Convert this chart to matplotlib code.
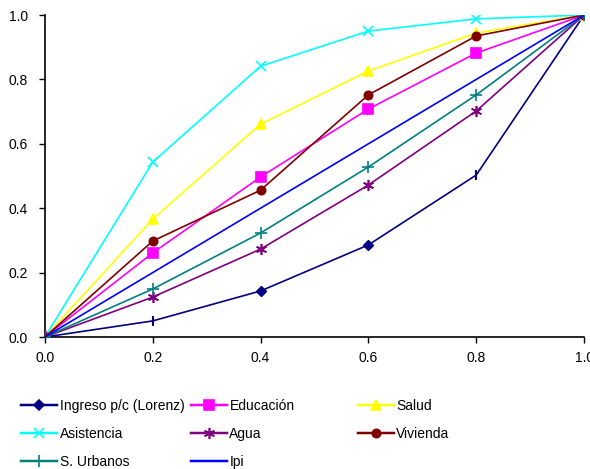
import matplotlib
matplotlib.use("Agg")
import matplotlib.pyplot as plt
from matplotlib.lines import Line2D

plt.rcParams['font.family'] = ['Liberation Sans', 'DejaVu Sans']

x = [0.0, 0.2, 0.4, 0.6, 0.8, 1.0]
lorenz = [0.0, 0.05, 0.143, 0.286, 0.503, 1.0]
educacion = [0.0, 0.261, 0.497, 0.708, 0.882, 1.0]
salud = [0.0, 0.366, 0.661, 0.826, 0.944, 1.0]
asistencia = [0.0, 0.543, 0.841, 0.950, 0.988, 1.0]
agua = [0.0, 0.124, 0.273, 0.472, 0.702, 1.0]
vivienda = [0.0, 0.298, 0.456, 0.752, 0.935, 1.0]
urbanos = [0.0, 0.149, 0.323, 0.528, 0.752, 1.0]
ipi = [0.0, 0.2, 0.4, 0.6, 0.8, 1.0]

labels = ["Ingreso p/c (Lorenz)", "Educación", "Salud", "Asistencia", "Agua",
          "Vivienda", "S. Urbanos", "Ipi"]
yticks = [0.0, 0.2, 0.4, 0.6, 0.8, 1.0]

fig = plt.figure(figsize=(5.9, 4.69), dpi=100)
ax = fig.add_axes([0.076, 0.2814, 0.914, 0.6866])

lw = 1.2
series = [
    (lorenz, "#000080", "D", 5),
    (educacion, "#FF00FF", "s", 7),
    (salud, "#FFFF00", "^", 7),
    (asistencia, "#00FFFF", "x", 7),
    (agua, "#800080", (6, 2, 0), 8),
    (vivienda, "#800000", "o", 6),
    (urbanos, "#008080", "+", 8),
    (ipi, "#0000FF", None, 0),
]

handles = []
for (vals, col, mk, ms), lab in zip(series, labels):
    if lab.startswith("Ingreso"):
        ax.plot(x, vals, color=col, lw=lw, marker="D", ms=ms, markevery=[0, 2, 3, 5], zorder=3)
        ax.plot(x, vals, color=col, lw=0, marker="|", ms=7, mew=1.5, markevery=[1, 4], zorder=3)
    else:
        ax.plot(x, vals, color=col, lw=lw, marker=mk, ms=ms, mew=1.2, zorder=3)
    handles.append(Line2D([], [], color=col, lw=lw * 1.5, marker=mk, ms=ms, mew=1.2))

ax.set_xlim(0, 1.0)
ax.set_ylim(0, 1.0)
ax.set_xticks(x)
ax.set_xticklabels([f"{v:.1f}" for v in x])
ax.set_yticks(yticks)
ax.set_yticklabels([f"{v:.1f}" for v in yticks])
for s in ["top", "right"]:
    ax.spines[s].set_visible(False)
for s in ["left", "bottom"]:
    ax.spines[s].set_linewidth(1.2)
ax.tick_params(axis="both", direction="out", length=4, width=1, labelsize=10, pad=6)
ax.tick_params(axis="y", pad=8)
for lbl in ax.get_xticklabels():
    lbl.set_clip_on(False)

cols = [[0, 3, 6], [1, 4, 7], [2, 5]]
xpos = [0.036, 0.323, 0.606]
for cidx, xp in zip(cols, xpos):
    leg = fig.legend([handles[i] for i in cidx], [labels[i] for i in cidx],
                     loc="upper left", bbox_to_anchor=(xp, 0.149), frameon=False,
                     fontsize=10, handlelength=2.6, handletextpad=0.2,
                     labelspacing=1.0, borderaxespad=0, borderpad=0)

fig.savefig("out.png", dpi=100)
